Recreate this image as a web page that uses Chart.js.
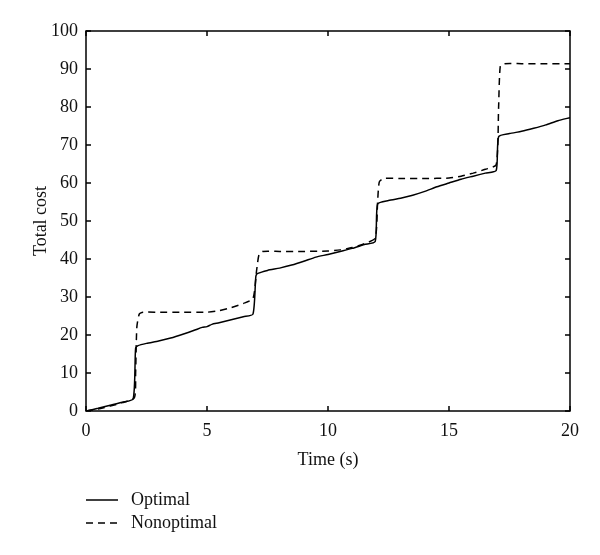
<!DOCTYPE html>
<html>
<head>
<meta charset="utf-8">
<script src="https://cdn.jsdelivr.net/npm/chart.js@4/dist/chart.umd.min.js"></script>
<style>
html,body{margin:0;padding:0;background:#fff;}
#wrap{width:600px;height:555px;position:relative;}
</style>
</head>
<body>
<div id="wrap"><canvas id="c" width="600" height="555"></canvas></div>
<script>
const xTicks = [0, 5, 10, 15, 20];
const yTicks = [0, 10, 20, 30, 40, 50, 60, 70, 80, 90, 100];
const seriesNames = ["Optimal", "Nonoptimal"];

const optimalTime = [0,0.5,1,1.5,1.95,2.05,2.15,2.5,3,3.5,4,4.5,4.8,5,5.2,5.5,6,6.5,6.9,7.02,7.1,7.5,8,8.5,9,9.5,10,10.5,11,11.5,11.95,12.05,12.5,13,13.5,14,14.5,15,15.5,16,16.5,16.95,17.05,17.5,18,18.5,19,19.5,20];
const optimalCost = [0,0.7,1.5,2.3,3.2,16.5,17.2,17.8,18.4,19.2,20.2,21.3,22,22.2,22.8,23.2,24,24.8,25.5,35.5,36.2,37,37.6,38.4,39.4,40.5,41.2,42,42.8,43.8,44.6,54.5,55.4,56,56.8,57.8,59,60,61,61.8,62.6,63.3,72.2,73,73.6,74.4,75.3,76.4,77.2];

const nonoptimalTime = [0,0.5,1,1.5,2,2.05,2.1,2.2,2.35,3,4,5,5.5,6,6.5,6.9,7.05,7.15,7.3,8,9,10,10.5,11,11.5,11.95,12.05,12.12,12.3,13,14,15,15.5,16,16.5,16.95,17.05,17.12,17.3,18,19,20];
const nonoptimalCost = [0,0.5,1.3,2.2,3.5,10,22,25.5,26,26,26,26,26.4,27.2,28.3,29.6,37,41.2,42,42,42,42.1,42.4,43,44,45.5,55,60.3,61.2,61.2,61.2,61.3,61.8,62.6,63.6,64.8,80,90.8,91.4,91.4,91.4,91.4];

const FONT = "'Liberation Serif', 'DejaVu Serif', serif";

function pts(xs, ys){ return xs.map((x,i)=>({x:x, y:ys[i]})); }

const frameTicks = {
  id: 'frameTicks',
  afterDraw(chart){
    const {ctx, chartArea:a, scales} = chart;
    ctx.save();
    ctx.strokeStyle = '#000';
    ctx.lineWidth = 1.5;
    ctx.strokeRect(a.left, a.top, a.right - a.left, a.bottom - a.top);
    const L = 5;
    ctx.beginPath();
    xTicks.forEach(v=>{
      const px = scales.x.getPixelForValue(v);
      ctx.moveTo(px, a.bottom); ctx.lineTo(px, a.bottom - L);
      ctx.moveTo(px, a.top); ctx.lineTo(px, a.top + L);
    });
    yTicks.forEach(v=>{
      const py = scales.y.getPixelForValue(v);
      ctx.moveTo(a.left, py); ctx.lineTo(a.left + L, py);
      ctx.moveTo(a.right, py); ctx.lineTo(a.right - L, py);
    });
    ctx.stroke();
    // legend
    const rows = [500, 523];
    ctx.font = "18px " + FONT;
    ctx.fillStyle = '#111';
    ctx.textBaseline = 'middle';
    chart.data.datasets.forEach((ds, i)=>{
      const y = rows[i];
      ctx.beginPath();
      ctx.lineWidth = 1.5;
      ctx.setLineDash(ds.borderDash || []);
      ctx.moveTo(86, y); ctx.lineTo(118, y);
      ctx.stroke();
      ctx.setLineDash([]);
      ctx.fillText(ds.label, 131, y);
    });
    ctx.restore();
  }
};

new Chart(document.getElementById('c'), {
  type: 'line',
  data: {
    datasets: [
      { label: seriesNames[0], data: pts(optimalTime, optimalCost), borderColor: '#000', borderWidth: 1.5, pointRadius: 0, tension: 0.2, fill: false },
      { label: seriesNames[1], data: pts(nonoptimalTime, nonoptimalCost), borderColor: '#000', borderWidth: 1.5, borderDash: [7,5], pointRadius: 0, tension: 0.2, fill: false }
    ]
  },
  options: {
    responsive: false,
    animation: false,
    devicePixelRatio: 1,
    layout: { padding: { left: 26, right: 30, top: 31, bottom: 80 } },
    plugins: { legend: { display: false }, tooltip: { enabled: false } },
    scales: {
      x: {
        type: 'linear', min: 0, max: 20,
        afterBuildTicks(s){ s.ticks = xTicks.map(v=>({value:v})); },
        afterFit(s){ s.height = 64; },
        grid: { drawOnChartArea: false, drawTicks: false },
        border: { display: false },
        ticks: { color: '#111', font: { family: FONT, size: 18 }, padding: 9, maxRotation: 0 },
        title: { display: true, text: 'Time (s)', color: '#111', font: { family: FONT, size: 18 }, padding: { top: 6 } }
      },
      y: {
        type: 'linear', min: 0, max: 100,
        afterBuildTicks(s){ s.ticks = yTicks.map(v=>({value:v})); },
        afterFit(s){ s.width = 60; },
        grid: { drawOnChartArea: false, drawTicks: false },
        border: { display: false },
        ticks: { color: '#111', font: { family: FONT, size: 18 }, padding: 8 },
        title: { display: true, text: 'Total cost', color: '#111', font: { family: FONT, size: 18 }, padding: { bottom: 6 } }
      }
    }
  },
  plugins: [frameTicks]
});
</script>
</body>
</html>
